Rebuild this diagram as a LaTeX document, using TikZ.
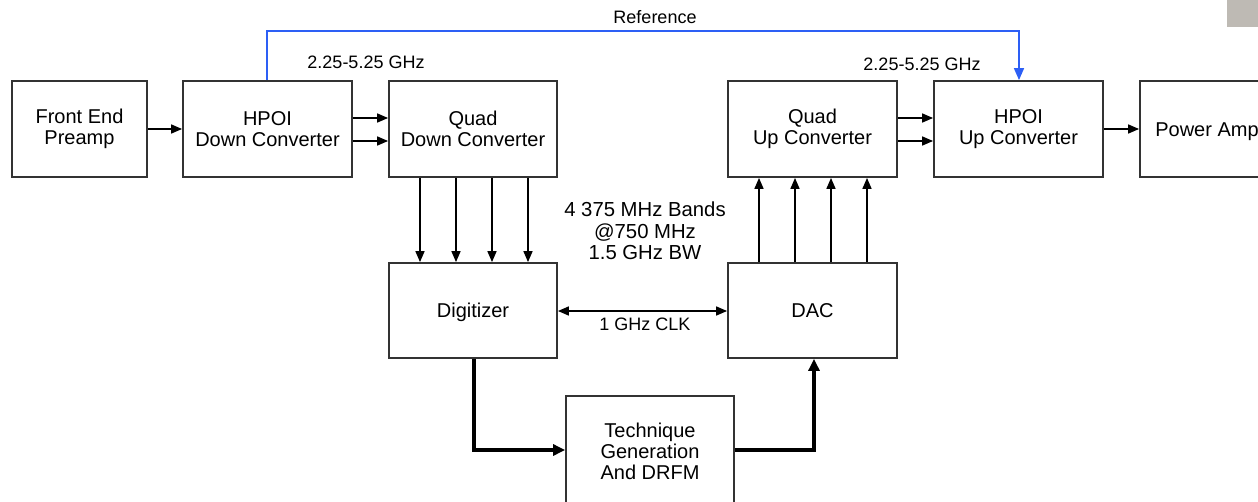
\documentclass[tikz,border=0pt]{standalone}
\usepackage{fontspec}
\setmainfont{Liberation Sans}
\usetikzlibrary{arrows.meta}
\definecolor{refblue}{RGB}{45,95,245}
\definecolor{cornergrey}{RGB}{190,186,180}
\begin{document}
\begin{tikzpicture}[x=1pt,y=-1pt,
  blk/.style={draw=black!80,line width=1.8pt,minimum width=168pt,minimum height=96pt,
    inner sep=0pt,align=center,font=\fontsize{20}{21}\selectfont},
  one/.style={text height=14pt,text depth=0pt},
  sig/.style={line width=1.6pt,-{Triangle[length=11pt,width=9pt]}},
  bsig/.style={line width=1.6pt,{Triangle[length=11pt,width=9pt]}-{Triangle[length=11pt,width=9pt]}},
  thick sig/.style={line width=3.6pt,-{Triangle[length=12pt,width=11pt]}},
  lbl/.style={font=\fontsize{18}{21}\selectfont,inner sep=0pt,align=center},
  mlbl/.style={font=\fontsize{20.3}{21.5}\selectfont,inner sep=0pt,align=center}]
\useasboundingbox (0,0) rectangle (1258,501);
\clip (0,0) rectangle (1258,501);
\fill[cornergrey] (1227,0) rectangle (1258,27);
% blocks
\node[blk,minimum width=135pt] (fe) at (79.5,129) {Front End\\Preamp};
\node[blk,minimum width=169pt] (hd) at (267.5,129) {HPOI\\Down Converter};
\node[blk] (qd) at (473,129) {Quad\\Down Converter};
\node[blk,minimum width=169pt] (qu) at (812.5,129) {Quad\\Up Converter};
\node[blk,minimum width=169pt] (hu) at (1018.5,129) {HPOI\\Up Converter};
\node[blk,one,minimum width=134pt] (pa) at (1207,129) {Power Amp};
\node[blk,one,minimum height=95pt] (dig) at (473,310.5) {Digitizer};
\node[blk,one,minimum width=169pt,minimum height=95pt] (dac) at (812.5,310.5) {DAC};
\node[blk,minimum height=110pt] (tech) at (650,451) {Technique\\Generation\\And DRFM};
% labels
\node[lbl] (reflbl) at (655,17) {Reference};
\node[lbl] (f1) at (366,62) {2.25-5.25 GHz};
\node[lbl] (f2) at (922,64) {2.25-5.25 GHz};
\node[mlbl] (bands) at (645,231) {4 375 MHz Bands\\@750 MHz\\1.5 GHz BW};
\node[lbl] (clk) at (645,324) {1 GHz CLK};
% coordinates
\coordinate (r1) at (267,31);
\coordinate (r2) at (1019,31);
\coordinate (t1) at (474,450);
\coordinate (t2) at (814,450);
% connectors
\draw[sig] (fe.east |- 0,129) -- (hd.west |- 0,129);
\draw[sig] (hd.east |- 0,118) -- (qd.west |- 0,118);
\draw[sig] (hd.east |- 0,141) -- (qd.west |- 0,141);
\draw[sig] (qu.east |- 0,118) -- (hu.west |- 0,118);
\draw[sig] (qu.east |- 0,141) -- (hu.west |- 0,141);
\draw[sig] (hu.east |- 0,129) -- (pa.west |- 0,129);
\foreach \x in {420,456,492,528}{
  \draw[sig] (qd.south -| \x,0) -- (dig.north -| \x,0);
}
\foreach \x in {759,795,831,867}{
  \draw[sig] (dac.north -| \x,0) -- (qu.south -| \x,0);
}
\draw[bsig] (dig.east |- 0,311) -- (dac.west |- 0,311);
\draw[thick sig] (dig.south -| t1) -- (t1) -- (tech.west |- t1);
\draw[thick sig] (tech.east |- t2) -- (t2) -- (dac.south -| t2);
\draw[refblue,sig,-{Triangle[length=12pt,width=10pt]}] (hd.north -| r1) -- (r1) -- (r2) -- (hu.north -| r2);
\end{tikzpicture}
\end{document}
